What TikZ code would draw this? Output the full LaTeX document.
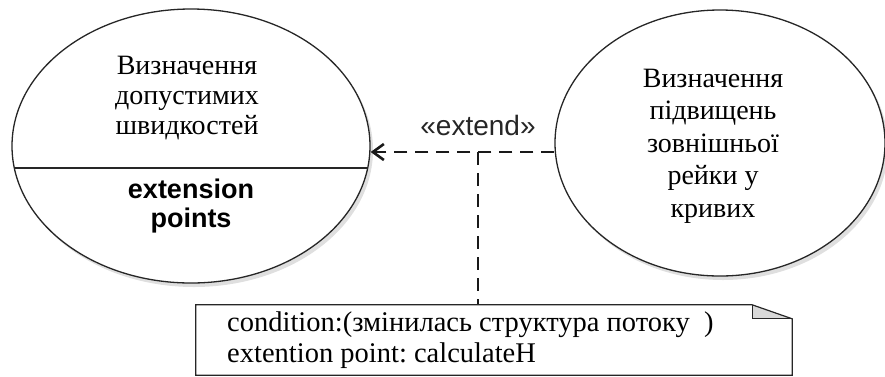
\documentclass[tikz,border=0pt]{standalone}
\usepackage{fontspec}
\setmainfont{Liberation Serif}
\setsansfont{Liberation Sans}
\frenchspacing
\usetikzlibrary{shapes.geometric,arrows.meta,shadows,calc}
\tikzset{
  usecase/.style={ellipse,draw=black!85,line width=1.3pt,fill=white,inner sep=0pt,
    drop shadow={opacity=0.25,shadow xshift=3pt,shadow yshift=-4pt}},
  ucText/.style={align=center,font=\fontsize{28}{30}\selectfont,inner sep=0pt},
  ucTextR/.style={align=center,font=\fontsize{28}{32.5}\selectfont,inner sep=0pt},
  epText/.style={align=center,font=\sffamily\bfseries\fontsize{27}{29}\selectfont,inner sep=0pt},
  extendLine/.style={dashed,dash pattern=on 13pt off 8pt,line width=2.6pt,black!90},
  noteText/.style={align=left,font=\fontsize{28.5}{31}\selectfont,inner sep=0pt,anchor=north west},
}
\begin{document}
\begin{tikzpicture}[x=1pt,y=-1pt]
\useasboundingbox (0,0) rectangle (885,376);
% use cases
\node[usecase,minimum width=358pt,minimum height=274pt] (L) at (191,146) {};
\node[usecase,minimum width=330pt,minimum height=266pt] (R) at (720,143) {};
\draw[black!85,line width=1.3pt] ([shift={(-176.7,22)}]L.center) -- ([shift={(176.7,22)}]L.center);
\node[ucText] (Lt) at (187,98) {Визначення\\допустимих\\швидкостей};
\node[epText] (Lep) at (191,206) {extension\\points};
\node[ucTextR] (Rt) at (713,146) {Визначення\\підвищень\\зовнішньої\\рейки у\\кривих};
% extend relation
\coordinate (ext) at (478,152);
\draw[extendLine,-{Straight Barb[length=11pt,width=16pt,line width=2.6pt]}] (R.west |- ext) -- (L.east |- ext);
\node[font=\sffamily\fontsize{28}{30}\selectfont,black!85,inner sep=0pt] (lbl) at (478,125) {«extend»};
% note
\node[minimum width=596pt,minimum height=70pt,inner sep=0pt] (N) at (494,340) {};
\draw[extendLine] (ext) -- (N.north -| ext);
\fill[black!15] ([xshift=-40pt]N.north east) -- ([xshift=-40pt,yshift=-14pt]N.north east) -- ([yshift=-14pt]N.north east) -- cycle;
\draw[black!85,line width=1.2pt] (N.north west) -- ([xshift=-40pt]N.north east) -- ([yshift=-14pt]N.north east) -- (N.south east) -- (N.south west) -- cycle;
\draw[black!85,line width=1pt] ([xshift=-40pt]N.north east) -- ([xshift=-40pt,yshift=-14pt]N.north east) -- ([yshift=-14pt]N.north east);
\node[noteText] (Nt) at (227,312) {condition:(змінилась структура потоку~~)\\extention point: calculateH};
\end{tikzpicture}
\end{document}
